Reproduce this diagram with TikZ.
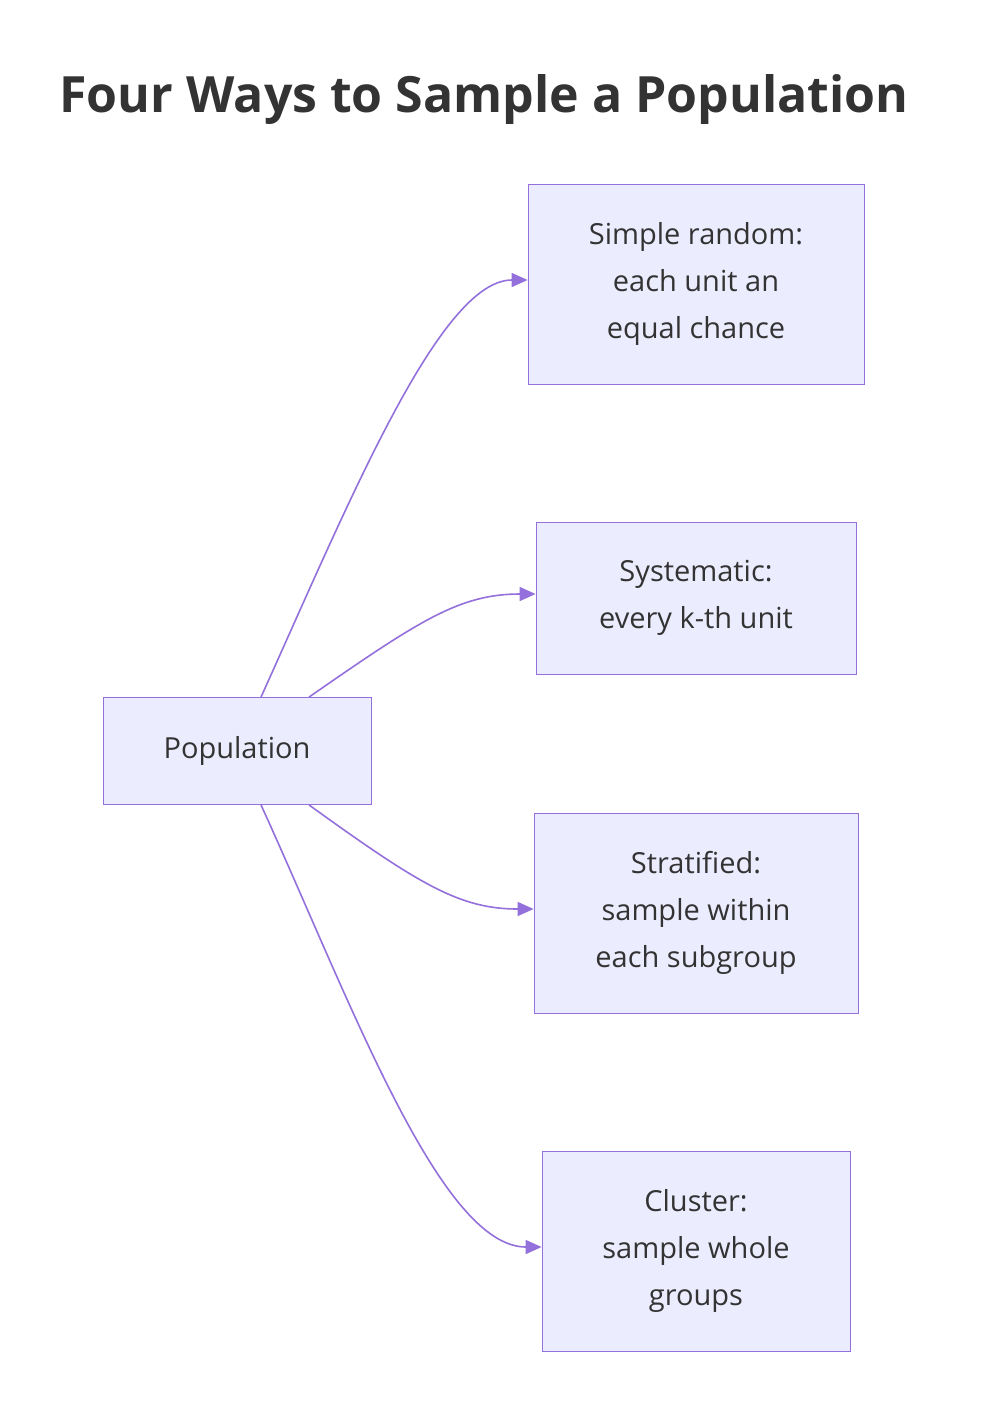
\documentclass[tikz,border=0pt]{standalone}
\usepackage{fontspec}
\setmainfont{Open Sans}
\usetikzlibrary{arrows.meta}
\definecolor{boxfill}{HTML}{ECECFF}
\definecolor{boxline}{HTML}{9370DB}
\definecolor{ink}{HTML}{333333}
\tikzset{
  method/.style={draw=boxline,fill=boxfill,text=ink,align=center,inner sep=0pt,
    font=\fontsize{14.5}{23.5}\selectfont},
  link/.style={draw=boxline,thick,-{Triangle[length=8pt,width=7pt]}}
}
\begin{document}
\begin{tikzpicture}
  [x=0.5pt,y=-0.5pt]
  \useasboundingbox (0,0) rectangle (984,1426);
  \node[text=ink,font=\fontsize{25}{30}\selectfont\bfseries] (title) at (484,100) {Four Ways to Sample a Population};

  \node[method,minimum width=134pt,minimum height=53.5pt] (pop) at (237,751) {\raisebox{-2pt}{Population}};
  \node[method,minimum width=168pt,minimum height=100pt] (simple) at (696,284) {Simple random:\\each unit an\\equal chance};
  \node[method,minimum width=160pt,minimum height=76pt] (syst) at (696,598) {Systematic:\\every k-th unit};
  \node[method,minimum width=162pt,minimum height=100pt] (strat) at (696,913) {Stratified:\\sample within\\each subgroup};
  \node[method,minimum width=154pt,minimum height=100pt] (clust) at (696,1251) {Cluster:\\sample whole\\groups};

  % curved connectors
  \draw[link] ([xshift=12pt]pop.north) .. controls (350,500) and (440,280) .. ([yshift=2pt]simple.west);
  \draw[link] ([xshift=36pt]pop.north) .. controls (420,620) and (460,594) .. ([yshift=2pt]syst.west);
  \draw[link] ([xshift=36pt]pop.south) .. controls (420,885) and (460,909) .. ([yshift=2pt]strat.west);
  \draw[link] ([xshift=12pt]pop.south) .. controls (350,1000) and (440,1247) .. ([yshift=2pt]clust.west);
\end{tikzpicture}
\end{document}
